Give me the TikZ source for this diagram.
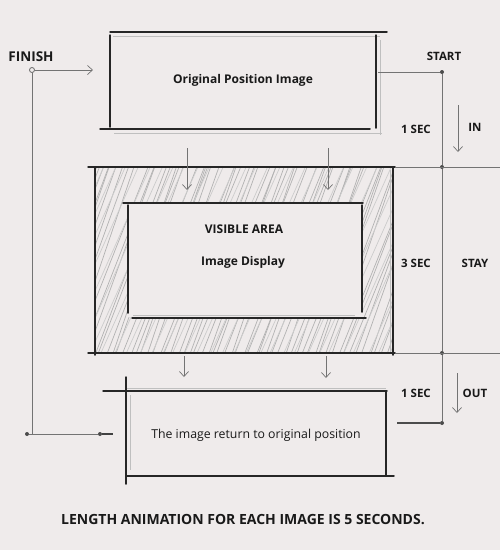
\documentclass[tikz,border=0pt]{standalone}
\usepackage{fontspec}
\setmainfont{Open Sans}
\usetikzlibrary{arrows.meta}
\definecolor{bg}{RGB}{239,235,235}
\tikzset{
  ink/.style={line width=1.5pt, black!85, line cap=round},
  faint/.style={line width=0.8pt, black!25},
  hatchline/.style={line width=0.7pt, black!30},
  conn/.style={line width=0.9pt, black!55},
  barb/.style={line width=0.7pt, black!55, -{Straight Barb[length=5pt,width=9pt]}},
  lbl/.style={font=\bfseries\fontsize{11.5}{13}\selectfont, text=black!90, inner sep=0pt},
  biglbl/.style={font=\bfseries\fontsize{13.5}{15}\selectfont, text=black!90, inner sep=0pt},
  boxlbl/.style={font=\bfseries\fontsize{12}{14}\selectfont, text=black!90, inner sep=0pt},
  plainlbl/.style={font=\fontsize{12.3}{14}\selectfont, text=black!90, inner sep=0pt},
  footer/.style={font=\bfseries\fontsize{14}{16}\selectfont, text=black!90, inner sep=0pt},
  dot/.style={circle, fill=black!70, inner sep=0pt, minimum size=4pt},
  odot/.style={circle, draw=black!60, line width=0.8pt, inner sep=0pt, minimum size=5pt},
}
\begin{document}
\begin{tikzpicture}[x=1pt,y=-1pt]
\fill[bg] (0,0) rectangle (500,550);
\useasboundingbox (0,0) rectangle (500,550);

% ---------- hatched frame (middle box) ----------
\begin{scope}
  \clip (95,168) rectangle (393,353);
  \pgfmathsetseed{7}
  \foreach \x in {0,6,...,420} {
    \pgfmathsetmacro{\a}{rnd*5-2.5}
    \pgfmathsetmacro{\b}{rnd*14-7}
    \draw[hatchline] (\x+\a,362) -- (\x+75+\b,160);
  }
  \foreach \x in {3,15,...,420} {
    \pgfmathsetmacro{\a}{rnd*5-2.5}
    \draw[hatchline, black!20] (\x+\a,362) -- (\x+90+\a,160);
  }
\end{scope}
\fill[bg] (128,204) rectangle (362,317);

% ---------- top box ----------
\draw[faint] (113,36) -- (380,36);
\draw[faint] (114,133) -- (382,133);
\draw[faint] (380,40) -- (380,135);
\draw[ink] (110,32) -- (387,32);
\draw[ink] (110,35) -- (110,127);
\draw[ink] (100,129) -- (370,129);
\draw[ink] (376,35) -- (376,128);
\node[boxlbl] (orig) at (243,80) {Original Position Image};

% ---------- middle box ----------
\draw[ink] (88,167) -- (395,167);
\draw[ink] (88,353) -- (395,353);
\draw[ink] (95,168) -- (95,355);
\draw[ink] (393,167) -- (393,355);
\draw[faint] (390,170) -- (390,352);
\draw[ink] (123,203) -- (363,203);
\draw[ink] (128,205) -- (128,313);
\draw[ink] (362,205) -- (362,312);
\draw[ink] (132,318) -- (366,318);
\draw[faint] (133,315) -- (355,315);
\node[boxlbl] (vis) at (244,229) {VISIBLE AREA};
\node[boxlbl] (disp) at (243,262) {Image Display};

% ---------- bottom box ----------
\draw[faint] (126,388) -- (386,388);
\draw[faint] (130,395) -- (130,470);
\draw[ink] (103,391) -- (387,391);
\draw[ink] (126,377) -- (126,484);
\draw[ink] (386,391) -- (386,475);
\draw[ink] (126,476) -- (394,476);
\node[plainlbl] (ret) at (256,435) {The image return to original position};

% ---------- movement arrows ----------
\coordinate (a1s) at (187,148); \coordinate (a1e) at (187,190);
\coordinate (a2s) at (328,148); \coordinate (a2e) at (328,190);
\coordinate (a3s) at (184,356); \coordinate (a3e) at (184,377);
\coordinate (a4s) at (326,356); \coordinate (a4e) at (326,378);
\draw[barb] (a1s) -- (a1e);
\draw[barb] (a2s) -- (a2e);
\draw[barb] (a3s) -- (a3e);
\draw[barb] (a4s) -- (a4e);

% ---------- right time line ----------
\node[lbl] (start) at (444,56) {START};
\coordinate (origE) at (378,72);
\node[dot] (dS) at (442,72) {};
\node[dot] (d1) at (442,167) {};
\node[dot] (d2) at (442,353) {};
\node[dot] (d3) at (442,423) {};
\coordinate (midR1) at (395,167); \coordinate (edgeR1) at (500,167);
\coordinate (midR2) at (395,353); \coordinate (edgeR2) at (500,353);
\coordinate (botE) at (397,423);
\draw[conn] (origE) -- (dS);
\draw[conn] (dS) -- (d1) -- (d2) -- (d3);
\draw[conn] (midR1) -- (edgeR1);
\draw[conn] (midR2) -- (edgeR2);
\draw[line width=1.2pt, black!70] (botE) -- (d3);

\node[lbl] (sec1) at (416,129) {1 SEC};
\node[lbl] (in) at (475,127) {IN};
\coordinate (ins) at (458,105); \coordinate (ine) at (458,152);
\draw[barb] (ins) -- (ine);

\node[lbl] (sec3) at (416,263) {3 SEC};
\node[lbl] (stay) at (475,263) {STAY};

\node[lbl] (sec1b) at (416,393) {1 SEC};
\node[lbl] (out) at (475,393) {OUT};
\coordinate (outs) at (457,373); \coordinate (oute) at (457,413);
\draw[barb] (outs) -- (oute);

% ---------- left return line ----------
\node[biglbl] (finish) at (31,57) {FINISH};
\node[odot] (dF) at (32,70) {};
\coordinate (fa) at (93,70);
\draw[barb] (dF) -- (fa);
\node[dot] (dL) at (27,434) {};
\node[dot] (dR) at (100,434) {};
\coordinate (dRe) at (113,434);
\draw[conn] (dF) -- (32,434) -- (dL);
\draw[conn] (dL) -- (dR);
\draw[line width=1.2pt, black!75] (dR) -- (dRe);

% ---------- footer ----------
\node[footer] (foot) at (243,520) {LENGTH ANIMATION FOR EACH IMAGE IS 5 SECONDS.};
\end{tikzpicture}
\end{document}
